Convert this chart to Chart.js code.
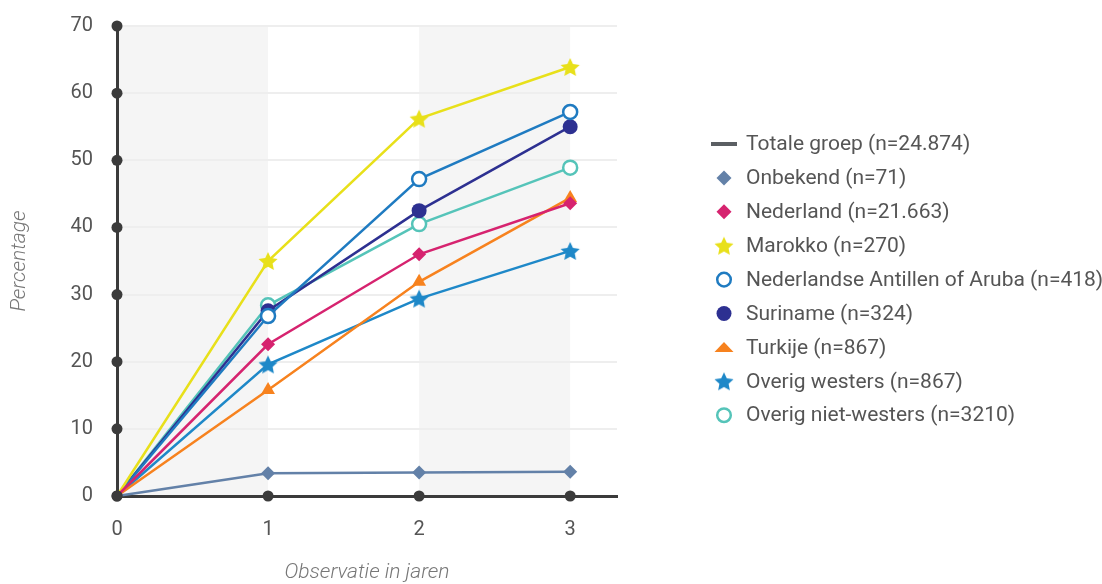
<!DOCTYPE html>
<html>
<head>
<meta charset="utf-8">
<script src="https://cdn.jsdelivr.net/npm/chart.js@4.4.0/dist/chart.umd.min.js"></script>
<style>
    html, body { margin: 0; padding: 0; background: #fff; }
    #wrap { width: 1102px; height: 584px; position: relative; }
</style>
</head>
<body>
<div id="wrap"><canvas id="chart"></canvas></div>
<script>
// observatiejaren (x-as)
const years = [0, 1, 2, 3];
const yTicks = [0, 10, 20, 30, 40, 50, 60, 70];

const seriesNames = [
    'Totale groep (n=24.874)',
    'Onbekend (n=71)',
    'Nederland (n=21.663)',
    'Marokko (n=270)',
    'Nederlandse Antillen of Aruba (n=418)',
    'Suriname (n=324)',
    'Turkije (n=867)',
    'Overig westers (n=867)',
    'Overig niet-westers (n=3210)'
];

// percentages per jaar
const totaleGroep = [];   // staat alleen in de legenda
const onbekend = [0, 3.4, 3.5, 3.6];
const nederland = [0, 22.6, 36.0, 43.6];
const marokko = [0, 35.0, 56.2, 63.9];
const antillen = [0, 26.8, 47.2, 57.2];
const suriname = [0, 27.6, 42.5, 55.0];
const turkije = [0, 15.8, 31.9, 44.4];
const overigWesters = [0, 19.6, 29.4, 36.5];
const overigNietWesters = [0, 28.4, 40.5, 48.9];

const colors = ['#5b5f63', '#6381a8', '#d6236f', '#e8e01a', '#1f7bc1', '#2d3091', '#f7821e', '#1e88c8', '#55c4b9'];
const markerKinds = ['line', 'diamond', 'diamond', 'star', 'ring', 'dot', 'triangle', 'star', 'ring'];

const axisColor = '#3b3b3b';
const textColor = '#555555';

function starCanvas(color, r) {
    const c = document.createElement('canvas');
    const s = Math.ceil(r * 2 + 2);
    c.width = s; c.height = s;
    const ctx = c.getContext('2d');
    ctx.translate(s / 2, s / 2 + 1);
    ctx.beginPath();
    for (let i = 0; i < 10; i++) {
        const rr = i % 2 ? r * 0.48 : r;
        const a = -Math.PI / 2 + i * Math.PI / 5;
        ctx.lineTo(Math.cos(a) * rr, Math.sin(a) * rr);
    }
    ctx.closePath();
    ctx.fillStyle = color;
    ctx.fill();
    return c;
}

// legend symbol drawn at (x, y)
function drawLegendMarker(ctx, kind, color, x, y) {
    ctx.save();
    ctx.fillStyle = color;
    ctx.strokeStyle = color;
    ctx.beginPath();
    if (kind === 'line') {
        ctx.fillRect(x - 13, y - 2, 26, 4);
    } else if (kind === 'diamond') {
        ctx.moveTo(x, y - 7.5); ctx.lineTo(x + 7.5, y); ctx.lineTo(x, y + 7.5); ctx.lineTo(x - 7.5, y);
        ctx.closePath(); ctx.fill();
    } else if (kind === 'dot') {
        ctx.arc(x, y, 7.5, 0, Math.PI * 2); ctx.fill();
    } else if (kind === 'ring') {
        ctx.lineWidth = 2.5;
        ctx.arc(x, y, 6.8, 0, Math.PI * 2); ctx.stroke();
    } else if (kind === 'triangle') {
        ctx.moveTo(x - 9.5, y + 4.5); ctx.lineTo(x, y - 5.5); ctx.lineTo(x + 9.5, y + 4.5);
        ctx.closePath(); ctx.fill();
    } else if (kind === 'star') {
        const img = starCanvas(color, 10);
        ctx.drawImage(img, x - img.width / 2, y - img.height / 2);
    }
    ctx.restore();
}

const values = [totaleGroep, onbekend, nederland, marokko, antillen, suriname, turkije, overigWesters, overigNietWesters];

function pointStyleFor(kind, color) {
    if (kind === 'star') return starCanvas(color, 10);
    if (kind === 'diamond') return 'rectRot';
    if (kind === 'triangle') return 'triangle';
    return 'circle';
}

const datasets = values.map((vals, i) => {
    const kind = markerKinds[i];
    const open = kind === 'ring';
    const size = kind === 'triangle' ? 8 : (kind === 'dot' ? 7.5 : 7);
    return {
        label: seriesNames[i],
        data: vals.map((v, j) => ({ x: years[j], y: v })),
        borderColor: colors[i],
        backgroundColor: colors[i],
        borderWidth: 2.5,
        tension: 0,
        pointStyle: pointStyleFor(kind, colors[i]),
        pointRadius: ctx => ctx.dataIndex === 0 ? 0 : size,
        pointHoverRadius: ctx => ctx.dataIndex === 0 ? 0 : size,
        pointBackgroundColor: open ? '#ffffff' : colors[i],
        pointBorderColor: colors[i],
        pointBorderWidth: open ? 2.5 : 0,
        clip: false
    };
});

const legendBox = { markerX: 724, textX: 746, firstY: 144, step: 33.9 };

const chartDecor = {
    id: 'chartDecor',
    beforeDraw(chart) {
        const {ctx, chartArea, scales} = chart;
        const x = scales.x;
        ctx.save();
        ctx.fillStyle = '#f5f5f5';
        [[0, 1], [2, 3]].forEach(([a, b]) => {
            const x0 = x.getPixelForValue(a);
            const x1 = x.getPixelForValue(b);
            ctx.fillRect(x0, chartArea.top, x1 - x0, chartArea.bottom - chartArea.top);
        });
        ctx.restore();
    },
    afterDatasetsDraw(chart) {
        const {ctx, chartArea, scales} = chart;
        ctx.save();
        ctx.fillStyle = axisColor;
        scales.y.ticks.forEach(t => {
            ctx.beginPath();
            ctx.arc(chartArea.left, scales.y.getPixelForValue(t.value), 5.5, 0, Math.PI * 2);
            ctx.fill();
        });
        scales.x.ticks.forEach(t => {
            ctx.beginPath();
            ctx.arc(scales.x.getPixelForValue(t.value), chartArea.bottom, 5.5, 0, Math.PI * 2);
            ctx.fill();
        });
        ctx.restore();
    },
    afterDraw(chart) {
        const ctx = chart.ctx;
        ctx.save();
        ctx.font = '21px Roboto';
        ctx.textBaseline = 'middle';
        ctx.textAlign = 'left';
        chart.data.datasets.forEach((ds, i) => {
            const y = legendBox.firstY + i * legendBox.step;
            drawLegendMarker(ctx, markerKinds[i], colors[i], legendBox.markerX, y);
            ctx.fillStyle = textColor;
            ctx.fillText(ds.label, legendBox.textX, y + 1);
        });
        ctx.restore();
    }
};

new Chart('chart', {
    type: 'line',
    data: { datasets: datasets },
    plugins: [chartDecor],
    options: {
        responsive: true,
        maintainAspectRatio: false,
        animation: false,
        layout: { padding: { top: 26, right: 485 } },
        scales: {
            x: {
                type: 'linear',
                min: 0,
                max: 3.31,
                grid: { display: false, drawTicks: false },
                border: { display: true, color: axisColor, width: 3 },
                ticks: {
                    stepSize: 1,
                    includeBounds: false,
                    padding: 22,
                    color: textColor,
                    font: { family: 'Roboto', size: 20 }
                },
                afterBuildTicks: s => { s.ticks = s.ticks.filter(t => years.includes(t.value)); },
                title: {
                    display: true,
                    text: 'Observatie in jaren',
                    color: '#777',
                    padding: { top: 20, bottom: 1 },
                    font: { family: 'Roboto', size: 21, style: 'italic', weight: 300, lineHeight: 1 }
                },
                afterFit: s => { s.height = 88; }
            },
            y: {
                min: 0,
                max: 70,
                grid: { color: '#eeeeee', lineWidth: 2, drawTicks: false },
                border: { display: true, color: axisColor, width: 3 },
                ticks: {
                    stepSize: 10,
                    padding: 24,
                    color: textColor,
                    font: { family: 'Roboto', size: 20 }
                },
                afterBuildTicks: s => { s.ticks = yTicks.map(v => ({ value: v })); },
                title: {
                    display: true,
                    text: 'Percentage',
                    color: '#777',
                    padding: { top: 9, bottom: 0 },
                    font: { family: 'Roboto', size: 21, style: 'italic', weight: 300, lineHeight: 1 }
                },
                afterFit: s => {
                    s.width = 117;
                    s.paddingTop = 0;
                    s.paddingBottom = 0;
                }
            }
        },
        plugins: {
            tooltip: { enabled: false },
            legend: { display: false }
        }
    }
});
</script>
</body>
</html>
